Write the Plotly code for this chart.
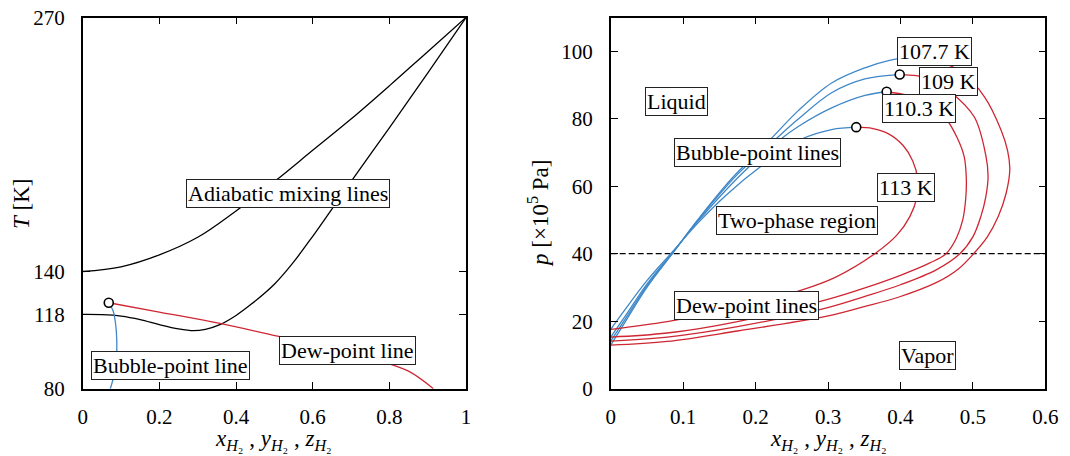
import plotly.graph_objects as go

# ---------------- Left panel data (T vs composition) ----------------
mix_hot_x = [0, 0.1, 0.2, 0.3, 0.4, 0.5, 0.6, 0.7, 0.8, 0.9, 1.0]
mix_hot_T = [140, 142.4, 148.5, 157.5, 171, 186, 202, 218, 235, 252.5, 270]

mix_cold_x = [0, 0.05, 0.1, 0.15, 0.2, 0.25, 0.289, 0.32, 0.358, 0.4, 0.44, 0.5,
              0.55, 0.6, 0.7, 0.8, 0.9, 1.0]
mix_cold_T = [118, 117.9, 117.2, 115.4, 112.8, 110.6, 109.7, 110.4, 112.8, 117.5,
              123.3, 133.5, 144.8, 158, 186, 213.5, 241.5, 270]

left_bubble_x = [0.068, 0.079, 0.086, 0.089, 0.088, 0.083, 0.072]
left_bubble_T = [124, 120, 113, 104, 96, 88, 80]

left_dew_x = [0.068, 0.2, 0.358, 0.532, 0.65, 0.767, 0.85, 0.915]
left_dew_T = [124, 119.2, 113.4, 105.8, 100.6, 94.7, 89.0, 80]

left_crit_x = [0.068]
left_crit_T = [124]

left_xticks = [0, 0.2, 0.4, 0.6, 0.8, 1]
left_xtick_text = ["0", "0.2", "0.4", "0.6", "0.8", "1"]
left_yticks = [80, 118, 140, 270]

# ---------------- Right panel data (p vs composition) ----------------
isotherm_names = ["107.7 K", "109 K", "110.3 K", "113 K"]

bub_107_x = [0, 0.02, 0.05, 0.085, 0.12, 0.168, 0.221, 0.259, 0.305, 0.351, 0.385, 0.42]
bub_107_p = [12.9, 19.8, 30, 40, 50, 62.5, 74, 82.4, 90.6, 95.1, 97.3, 98.4]
bub_109_x = [0, 0.02, 0.05, 0.085, 0.12, 0.175, 0.228, 0.259, 0.305, 0.351, 0.399]
bub_109_p = [14.1, 20.6, 30.5, 40, 49.8, 63.5, 74, 79.9, 87.7, 91.8, 93.1]
bub_110_x = [0, 0.02, 0.05, 0.085, 0.12, 0.18, 0.235, 0.259, 0.305, 0.351, 0.381]
bub_110_p = [15.3, 21.5, 31, 40.2, 49.5, 63.5, 74, 77.7, 83.2, 86.9, 88]
bub_113_x = [0, 0.02, 0.05, 0.085, 0.12, 0.16, 0.208, 0.264, 0.305, 0.339]
bub_113_p = [17.6, 23.5, 32, 40.5, 49, 57.5, 66, 74, 76.8, 77.5]

dew_107_x = [0, 0.078, 0.175, 0.297, 0.35, 0.397, 0.45, 0.48, 0.501, 0.52, 0.535,
             0.546, 0.551, 0.548, 0.539, 0.516, 0.484, 0.456, 0.42]
dew_107_p = [12.9, 14.0, 17.1, 21.4, 24.3, 27.1, 31.5, 35.5, 40, 45, 51,
             58, 65, 70.5, 76.6, 86.5, 93.9, 96.8, 98.4]
dew_109_x = [0, 0.078, 0.175, 0.297, 0.35, 0.40, 0.45, 0.482, 0.5, 0.511, 0.518,
             0.521, 0.518, 0.502, 0.47, 0.44, 0.422, 0.399]
dew_109_p = [14.1, 15.3, 18.4, 23.9, 27.3, 30.8, 35.3, 40, 45, 51, 57,
             63, 69, 80.5, 87.8, 91.8, 92.8, 93.1]
dew_110_x = [0, 0.078, 0.175, 0.297, 0.35, 0.40, 0.44, 0.463, 0.477, 0.486, 0.49,
             0.491, 0.488, 0.478, 0.463, 0.44, 0.41, 0.381]
dew_110_p = [15.3, 16.5, 19.9, 26.3, 29.8, 33.6, 37.2, 40, 44.5, 50, 56,
             62, 68.8, 74.5, 80, 84.5, 86.9, 88]
dew_113_x = [0, 0.078, 0.175, 0.259, 0.31, 0.3646, 0.395, 0.413, 0.423, 0.424,
             0.417, 0.404, 0.383, 0.362, 0.339]
dew_113_p = [17.6, 19.9, 23.8, 28.9, 33.0, 40, 45.5, 51, 57, 62,
             67.5, 72, 75.6, 77.1, 77.5]

crit_x = [0.399, 0.381, 0.339]
crit_p = [93.1, 88.0, 77.5]

dashed_x = [0, 0.6]
dashed_p = [40, 40]

right_xticks = [0, 0.1, 0.2, 0.3, 0.4, 0.5, 0.6]
right_xtick_text = ["0", "0.1", "0.2", "0.3", "0.4", "0.5", "0.6"]
right_yticks = [0, 20, 40, 60, 80, 100]

BLUE = "#3f88c8"
RED = "#cf2633"
FONT = "Liberation Serif"
FS_TICK = 21
FS_LAB = 22
FS_TITLE = 23

fig = go.Figure()

def line(x, y, color, xa, ya, width=1.3, dash=None, shape="spline"):
    fig.add_trace(go.Scatter(x=x, y=y, mode="lines", xaxis=xa, yaxis=ya,
                             line=dict(color=color, width=width, dash=dash, shape=shape,
                                       smoothing=1.0),
                             showlegend=False, hoverinfo="skip"))

# left panel
line(mix_hot_x, mix_hot_T, "black", "x", "y")
line(mix_cold_x, mix_cold_T, "black", "x", "y")
line(left_bubble_x, left_bubble_T, BLUE, "x", "y")
line(left_dew_x, left_dew_T, RED, "x", "y")
fig.add_trace(go.Scatter(x=left_crit_x, y=left_crit_T, mode="markers", xaxis="x", yaxis="y",
                         marker=dict(symbol="circle", size=9, color="white",
                                     line=dict(color="black", width=1.6)),
                         showlegend=False, hoverinfo="skip"))

# right panel
line(dashed_x, dashed_p, "black", "x2", "y2", width=1.2, dash="6px,3px", shape="linear")
for bx, bp in [(bub_107_x, bub_107_p), (bub_109_x, bub_109_p),
               (bub_110_x, bub_110_p), (bub_113_x, bub_113_p)]:
    line(bx, bp, BLUE, "x2", "y2")
for dx, dp in [(dew_107_x, dew_107_p), (dew_109_x, dew_109_p),
               (dew_110_x, dew_110_p), (dew_113_x, dew_113_p)]:
    line(dx, dp, RED, "x2", "y2")
fig.add_trace(go.Scatter(x=crit_x, y=crit_p, mode="markers", xaxis="x2", yaxis="y2",
                         marker=dict(symbol="circle", size=9, color="white",
                                     line=dict(color="black", width=1.6)),
                         showlegend=False, hoverinfo="skip"))

axis_common = dict(showline=True, linecolor="black", linewidth=1.6, mirror="ticks",
                   ticks="inside", ticklen=7, tickwidth=1, tickcolor="black",
                   showgrid=False, zeroline=False, automargin=False,
                   tickfont=dict(family=FONT, size=FS_TICK, color="black"))

y_dom = [1 - 388.7 / 456, 1 - 17.5 / 456]
fig.update_layout(
    width=1070, height=456,
    margin=dict(l=0, r=0, t=0, b=0, pad=0),
    paper_bgcolor="white", plot_bgcolor="white",
    xaxis=dict(domain=[82.7 / 1070, 466 / 1070], range=[0, 1], tickvals=left_xticks,
               ticktext=left_xtick_text, ticklabelstandoff=8, anchor="y", **axis_common),
    yaxis=dict(domain=y_dom, range=[80, 270], tickvals=left_yticks,
               ticklabelstandoff=12, anchor="x", **axis_common),
    xaxis2=dict(domain=[610.7 / 1070, 1045.3 / 1070], range=[0, 0.6], tickvals=right_xticks,
                ticktext=right_xtick_text, ticklabelstandoff=8, anchor="y2", **axis_common),
    yaxis2=dict(domain=y_dom, range=[0, 110], tickvals=right_yticks,
                ticklabelstandoff=12, anchor="x2", **axis_common),
)

box = dict(showarrow=False, bgcolor="white", bordercolor="#222222", borderwidth=1,
           borderpad=1, font=dict(family=FONT, size=FS_LAB, color="black"))

labels_left = [("Adiabatic mixing lines", 0.535, 179.8),
               ("Dew-point line", 0.691, 99.7),
               ("Bubble-point line", 0.23, 91.8)]
for t, x, y in labels_left:
    fig.add_annotation(text=t, x=x, y=y, xref="x", yref="y", **box)

labels_right = [("107.7 K", 0.447, 99.9), ("109 K", 0.467, 91.0),
                ("110.3 K", 0.426, 83.1), ("113 K", 0.407, 59.7),
                ("Liquid", 0.0915, 85.0), ("Bubble-point lines", 0.203, 70.0),
                ("Two-phase region", 0.257, 49.8), ("Dew-point lines", 0.187, 24.6),
                ("Vapor", 0.438, 9.9)]
for t, x, y in labels_right:
    fig.add_annotation(text=t, x=x, y=y, xref="x2", yref="y2", **box)

title_font = dict(family=FONT, size=FS_TITLE, color="black")
xtitle = ("<i>x</i><sub><i>H</i>₂</sub> , <i>y</i><sub><i>H</i>₂</sub> , "
          "<i>z</i><sub><i>H</i>₂</sub>")
fig.add_annotation(text=xtitle, x=273 / 1070, y=1 - 440 / 456, xref="paper", yref="paper",
                   showarrow=False, font=title_font, xanchor="center", yanchor="middle")
fig.add_annotation(text=xtitle, x=828 / 1070, y=1 - 440 / 456, xref="paper", yref="paper",
                   showarrow=False, font=title_font, xanchor="center", yanchor="middle")
fig.add_annotation(text="<i>T</i> [K]", x=21 / 1070, y=1 - 204 / 456, xref="paper",
                   yref="paper", showarrow=False, font=title_font, textangle=-90,
                   xanchor="center", yanchor="middle")
fig.add_annotation(text="<i>p</i> [×10<sup>5</sup> Pa]", x=538 / 1070, y=1 - 214 / 456,
                   xref="paper", yref="paper", showarrow=False, font=title_font,
                   textangle=-90, xanchor="center", yanchor="middle")

fig.write_html("out.html")
